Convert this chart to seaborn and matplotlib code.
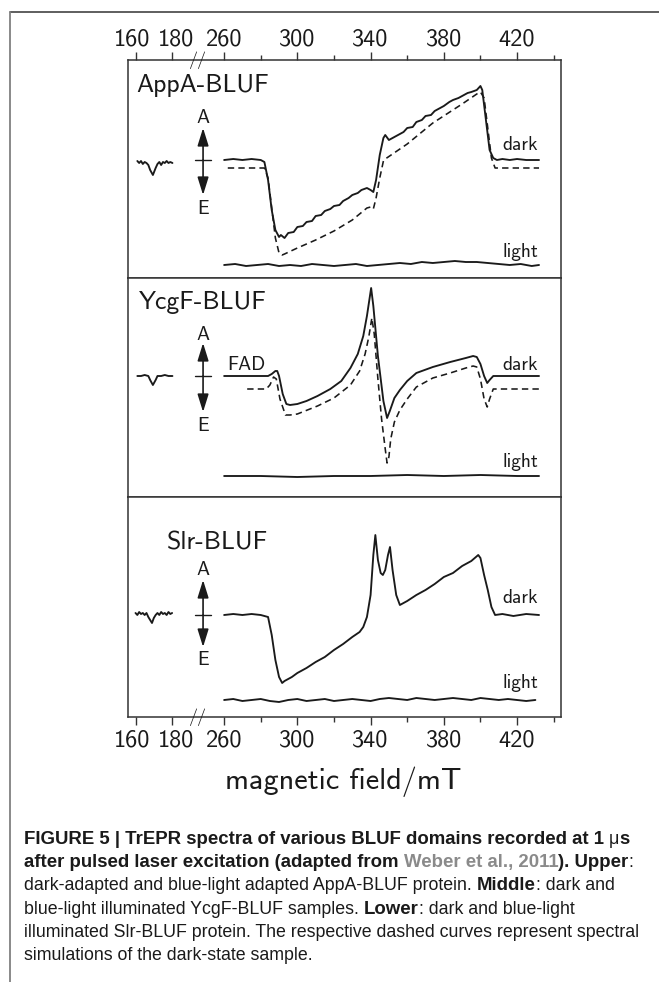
import numpy as np
import pandas as pd
import matplotlib
matplotlib.use("Agg")
import matplotlib.pyplot as plt
import seaborn as sns
from matplotlib import transforms

# ---------------- data (field in mT, signal in arbitrary units) -------------
appa_dark_x = [260, 265, 270, 275, 280, 282, 284, 286, 288, 290, 291, 293, 295, 298, 300, 303, 305, 308, 310,
               313, 315, 318, 320, 323, 325, 328, 330, 333, 335, 338, 340, 341.5, 343, 345, 347, 348, 350, 352,
               355, 358, 360, 363, 365, 368, 370, 373, 375, 378, 380, 383, 385, 388, 390, 393, 395, 398, 400,
               401, 403, 405, 407, 409, 412, 416, 420, 425, 432]
appa_dark_y = [0, 1, 0, 1, 0, -2, -20, -50, -70, -77, -75, -78, -73, -72, -67, -66, -62, -61, -56,
               -55, -51, -49, -46, -45, -41, -38, -35, -33, -30, -28, -30, -32, -20, 5, 22, 25, 20, 22,
               25, 28, 32, 33, 38, 40, 44, 45, 49, 52, 54, 58, 60, 62, 64, 67, 68, 70, 74,
               70, 40, 10, 2, 0, 1, 0, 1, 0, 0]
appa_sim_x = [262, 282, 284, 286, 288, 290, 291.7, 293, 300, 310, 320, 330, 338, 340, 341.5, 343, 345, 347,
              348, 360, 374, 390, 398, 400, 402, 404, 406, 408, 432]
appa_sim_y = [0, 0, -10, -40, -70, -85, -87, -86, -80, -72, -63, -52, -40, -39, -41, -30, -10, 7,
              9, 24, 45, 64, 74, 76, 70, 40, 10, 0, 0]
appa_light_x = [260, 266, 272, 278, 284, 290, 296, 302, 308, 314, 320, 326, 332, 338, 344, 350, 356, 362,
                368, 374, 380, 386, 392, 398, 404, 410, 416, 422, 428, 432]
appa_light_y = [0, 1, -1, 0, 1, -1, 0, -1, 1, 0, -1, 0, 1, -1, 0, 1, 2, 1,
                3, 2, 3, 4, 3, 3, 2, 1, 0, 1, -1, 0]
appa_low_x = [161, 162, 163, 164, 165, 166, 167, 168, 169.5, 171, 172, 173, 174, 175, 176, 177, 178, 179, 180.5]
appa_low_y = [-1, -3, -1, -4, -2, -3, -5, -10, -15, -8, -4, -2, -5, -2, -3, -1, -3, -2, -3]

ycgf_dark_x = [260, 284, 286, 288, 289, 290, 292, 294, 296, 300, 305, 311, 318, 324, 329, 333, 336, 338,
               340.3, 341.5, 344, 347, 349, 350.5, 353, 356, 360, 365, 374, 383.5, 392, 396, 398, 400, 402,
               403.7, 405, 407, 432]
ycgf_dark_y = [0, 0, 2, 5, 5, 0, -18, -28, -29, -28, -25, -20, -13, -5, 8, 22, 40, 60,
               88, 70, 20, -25, -42, -35, -22, -14, -5, 3, 9, 14, 18, 20, 19, 12, 0,
               -7, -4, 0, 0]
ycgf_sim_x = [272.6, 283, 285, 287, 288.5, 290.5, 293.5, 296, 300, 311, 320, 329, 334, 337, 339, 340.7, 342,
              344, 346, 348, 349, 350, 351, 353, 356, 360, 365, 374, 383.5, 392, 396, 398, 400, 402, 403.7,
              405, 407, 432]
ycgf_sim_y = [0, 0, 4, 12, 10, -10, -26, -26, -25, -17, -9, 4, 18, 35, 52, 71, 55,
              10, -30, -60, -74, -68, -50, -33, -21, -10, 2, 11, 16, 21, 23, 22, 10, -10, -18,
              -10, 0, 0]
ycgf_light_x = [260, 280, 300, 320, 340, 360, 380, 400, 420, 432]
ycgf_light_y = [0, 0, -1, 0, 0, 1, 0, 1, 0, 0]
ycgf_low_x = [161, 163, 165, 167, 168, 169.5, 171, 172, 174, 176, 178, 180.5]
ycgf_low_y = [0, 0, 1, 0, -4, -9, -4, 0, 0, 1, 0, 0]

slr_dark_x = [260, 265, 270, 275, 280, 284, 286, 288, 290, 291.7, 293, 297, 300, 305, 310, 315, 320, 325,
              330, 334, 336, 338, 340, 341.5, 342.6, 344, 345.5, 346.7, 348, 349.5, 350.6, 352, 354, 356,
              360, 365, 370, 375, 380, 385, 390, 395, 398.8, 400, 402, 404, 406, 408, 412, 418, 425, 432]
slr_dark_y = [0, 1, 0, 1, 0, -2, -20, -45, -62, -68, -66, -62, -58, -53, -47, -42, -35, -29,
              -22, -17, -12, -2, 20, 60, 80, 55, 42, 40, 45, 60, 68, 45, 20, 10,
              14, 20, 25, 31, 38, 42, 49, 54, 60, 57, 40, 25, 8, 0, 1, -1, 1, 0]
slr_light_x = [260, 265, 270, 275, 280, 285, 290, 295, 300, 305, 310, 315, 320, 325, 330, 335, 340, 345,
               350, 355, 360, 365, 370, 375, 380, 385, 390, 395, 400, 405, 410, 415, 420, 425, 430]
slr_light_y = [0, 1, -1, 0, 1, -1, -2, 0, 1, -1, 0, 1, -1, 0, 1, 0, -1, 1,
               2, 1, 0, 2, 1, 0, 1, 2, 1, 0, 2, 1, 0, 1, 0, -1, 0]
slr_low_x = [160, 161, 162, 163, 164, 165, 166, 167, 168, 169, 170, 171, 172, 173, 174, 175, 176, 177, 178, 179, 180]
slr_low_y = [2, 0, 3, 1, 2, 0, 2, -2, -5, -8, -3, 0, 2, 0, 3, 1, 2, 0, 3, 1, 2]

panel_names = ["AppA-BLUF", "YcgF-BLUF", "Slr-BLUF"]
major_ticks = [160, 180, 260, 300, 340, 380, 420]
minor_ticks = [280, 320, 360, 400, 440]
xlabel_text = "magnetic field/mT"

# ---------------- style ----------------
sns.set_theme(style="white")
plt.rcParams["font.family"] = ["cmss10", "DejaVu Sans"]
plt.rcParams["axes.unicode_minus"] = False
plt.rcParams["mathtext.fontset"] = "cm"

INK = "#1a1a1a"
W, H, DPI = 6.59, 9.82, 100
fig = plt.figure(figsize=(W, H), dpi=DPI)

# broken-axis transform (160-180 mT segment placed just left of 260 mT)
SEG_OFF = 51.6
JOIN = 180 + SEG_OFF
K = (260 - JOIN) / 80.0


def fwd(x):
    x = np.asarray(x, dtype=float)
    return np.where(x <= 180, x + SEG_OFF, np.where(x < 260, JOIN + (x - 180) * K, x))


def inv(v):
    v = np.asarray(v, dtype=float)
    return np.where(v <= JOIN, v - SEG_OFF, np.where(v < 260, 180 + (v - JOIN) / K, v))


def px_x(p):
    return p / 659.0


def px_y(p):
    return 1 - p / 982.0


left, right = px_x(128), px_x(561)
tops = [60, 278, 497]
bots = [278, 497, 717]
ylims = [(-118, 100), (-121, 98), (-102, 118)]

axes = []
for i in range(3):
    ax = fig.add_axes([left, px_y(bots[i]), right - left, (bots[i] - tops[i]) / 982.0])
    ax.set_xscale("function", functions=(fwd, inv))
    ax.set_xlim(155.9, 444)
    ax.set_ylim(*ylims[i])
    ax.set_yticks([])
    for s in ax.spines.values():
        s.set_color("#333333")
        s.set_linewidth(1.1)
    axes.append(ax)


def trace(ax, xs, ys, offset=0.0, dashed=False, lw=1.35):
    df = pd.DataFrame({"B": xs, "S": np.asarray(ys, dtype=float) + offset})
    kw = dict(color=INK, lw=lw)
    if dashed:
        kw["linestyle"] = (0, (4.0, 2.6))
        kw["lw"] = 1.15
    sns.lineplot(data=df, x="B", y="S", ax=ax, sort=False, estimator=None, legend=False, **kw)


# panel 1: AppA
trace(axes[0], appa_low_x, appa_low_y)
trace(axes[0], appa_dark_x, appa_dark_y)
trace(axes[0], appa_sim_x, appa_sim_y, offset=-8, dashed=True)
trace(axes[0], appa_light_x, appa_light_y, offset=-105)
# panel 2: YcgF
trace(axes[1], ycgf_low_x, ycgf_low_y)
trace(axes[1], ycgf_dark_x, ycgf_dark_y)
trace(axes[1], ycgf_sim_x, ycgf_sim_y, offset=-13, dashed=True)
trace(axes[1], ycgf_light_x, ycgf_light_y, offset=-100)
# panel 3: Slr
trace(axes[2], slr_low_x, slr_low_y)
trace(axes[2], slr_dark_x, slr_dark_y)
trace(axes[2], slr_light_x, slr_light_y, offset=-85)

# labels inside panels
label_fs = 14
title_pos = [(0.018, 0.881), (0.025, 0.886), (0.09, 0.79)]
dark_y = [15, 11, 17]
light_y = [-92, -86, -68]
arrow_spec = [(32, -35, 42, -49), (33, -36, 41, -50), (35, -32, 45, -45)]
ARROW_X = 227.6
for i, ax in enumerate(axes):
    ax.set_xlabel("")
    ax.set_ylabel("")
    ax.text(*title_pos[i], panel_names[i], transform=ax.transAxes, ha="left", va="center",
            fontsize=18.5, color=INK)
    ax.text(431.6, dark_y[i], "dark", ha="right", va="center", fontsize=label_fs, color=INK)
    ax.text(431.6, light_y[i], "light", ha="right", va="center", fontsize=label_fs, color=INK)
    top_a, bot_a, a_lab, e_lab = arrow_spec[i]
    ax.annotate("", xy=(ARROW_X, top_a), xytext=(ARROW_X, 0),
                arrowprops=dict(arrowstyle="-|>,head_length=0.9,head_width=0.28", color=INK, lw=1.2,
                                shrinkA=0, shrinkB=0))
    ax.annotate("", xy=(ARROW_X, bot_a), xytext=(ARROW_X, 0),
                arrowprops=dict(arrowstyle="-|>,head_length=0.9,head_width=0.28", color=INK, lw=1.2,
                                shrinkA=0, shrinkB=0))
    ax.plot([215.5, 240.0], [0, 0], color=INK, lw=1.0)
    ax.text(ARROW_X, a_lab, "A", ha="center", va="center", fontsize=label_fs, color=INK)
    ax.text(ARROW_X, e_lab, "E", ha="center", va="center", fontsize=label_fs, color=INK)
axes[1].text(261.6, 11, "FAD", ha="left", va="center", fontsize=label_fs, color=INK)

# ticks
label_shift_px = {160: -3.0, 180: 4.0}
for i, ax in enumerate(axes):
    ax.set_xticks(major_ticks)
    ax.set_xticks(minor_ticks, minor=True)
    ax.set_xticklabels([str(t) for t in major_ticks])
    ax.tick_params(axis="x", which="major", length=6, width=1.0, color="#333333", labelsize=17.5,
                   labelcolor=INK, pad=3.2, direction="out")
    ax.tick_params(axis="x", which="minor", length=3.6, width=1.0, color="#333333", direction="out")
    if i == 0:
        ax.tick_params(axis="x", which="both", top=True, labeltop=True, bottom=False, labelbottom=False)
        ax.tick_params(axis="x", which="major", pad=0.6)
    elif i == 2:
        ax.tick_params(axis="x", which="both", top=False, labeltop=False, bottom=True, labelbottom=True)
    else:
        ax.tick_params(axis="x", which="both", top=False, labeltop=False, bottom=False, labelbottom=False)

fig.canvas.draw()
for i in (0, 2):
    ax = axes[i]
    labs = ax.get_xticklabels()
    for t, lab in zip(major_ticks, labs):
        if t in label_shift_px:
            off = transforms.ScaledTranslation(label_shift_px[t] / DPI, 0, fig.dpi_scale_trans)
            lab.set_transform(lab.get_transform() + off)

# axis-break marks
for ax, yy in ((axes[0], 1.0), (axes[2], 0.0)):
    tr = transforms.blended_transform_factory(ax.transData, ax.transAxes)
    ax.text(220, yy, "//", transform=tr, ha="center", va="center", fontsize=13, color=INK, clip_on=False)

fig.text(px_x(343), px_y(782), xlabel_text, ha="center", va="center", fontsize=21.8, color=INK)

# outer frame lines
fig.add_artist(plt.Line2D([px_x(10), 1.0], [px_y(12), px_y(12)], color="#333333", lw=1.1,
                          transform=fig.transFigure))
fig.add_artist(plt.Line2D([px_x(10), px_x(10)], [px_y(12), 0.0], color="#808080", lw=1.3,
                          transform=fig.transFigure))

# caption
CAP_FONT = ["Liberation Sans", "DejaVu Sans"]
CAP_FS = {"normal": 12.8, "bold": 13.4}
caption_lines = [
    [("FIGURE 5 | TrEPR spectra of various BLUF domains recorded at 1 ", "bold", INK), ("\u03bc", "normal", INK),
     ("s", "bold", INK)],
    [("after pulsed laser excitation (adapted from ", "bold", INK), ("Weber et al., 2011", "bold", "#8a8a8a"),
     ("). Upper", "bold", INK), (":", "normal", INK)],
    [("dark-adapted and blue-light adapted AppA-BLUF protein. ", "normal", INK), ("Middle", "bold", INK),
     (": dark and", "normal", INK)],
    [("blue-light illuminated YcgF-BLUF samples. ", "normal", INK), ("Lower", "bold", INK),
     (": dark and blue-light", "normal", INK)],
    [("illuminated Slr-BLUF protein. The respective dashed curves represent spectral", "normal", INK)],
    [("simulations of the dark-state sample.", "normal", INK)],
]
baselines = [844, 867, 890, 914, 937, 960]
renderer = fig.canvas.get_renderer()


def run_width(s, weight):
    t1 = fig.text(0, 0, "|" + s + "|", fontsize=CAP_FS[weight], fontweight=weight, family=CAP_FONT)
    t2 = fig.text(0, 0, "||", fontsize=CAP_FS[weight], fontweight=weight, family=CAP_FONT)
    w = t1.get_window_extent(renderer).width - t2.get_window_extent(renderer).width
    t1.remove()
    t2.remove()
    return w


for line, base in zip(caption_lines, baselines):
    xpix = 24.0
    for s, weight, col in line:
        fig.text(px_x(xpix), px_y(base), s, fontsize=CAP_FS[weight], fontweight=weight, family=CAP_FONT,
                 color=col, ha="left", va="baseline")
        xpix += run_width(s, weight)

fig.savefig("out.png", dpi=DPI, facecolor="white")
